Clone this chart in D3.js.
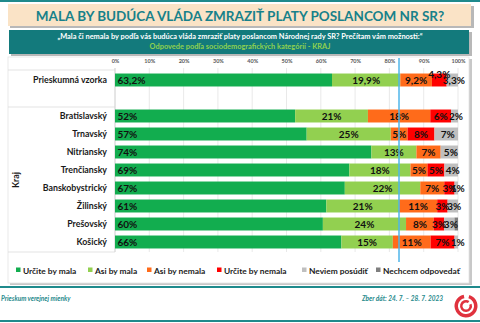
<!DOCTYPE html>
<html>
<head>
<meta charset="utf-8">
<script src="https://cdn.jsdelivr.net/npm/d3@7"></script>
<style>
  body { margin: 0; background: #fff; }
  svg { display: block; font-family: Lato, "Open Sans", sans-serif; }
</style>
</head>
<body>
<div id="chart"></div>
<script>
// categories (rows) and answer series
const rows = ["Prieskumná vzorka", "Bratislavský", "Trnavský", "Nitriansky", "Trenčiansky",
  "Banskobystrický", "Žilinský", "Prešovský", "Košický"];
const series = ["Určite by mala", "Asi by mala", "Asi by nemala", "Určite by nemala", "Neviem posúdiť", "Nechcem odpovedať"];

// values in %, one per row
const urciteMala   = [63.2, 52, 57, 74, 69, 67, 61, 60, 66];
const asiMala      = [19.9, 21, 25, 13, 18, 22, 21, 24, 15];
const asiNemala    = [9.2, 18, 5, 7, 5, 7, 11, 8, 11];
const urciteNemala = [4.3, 6, 8, 0, 5, 3, 3, 3, 7];
const neviem       = [3.3, 2, 7, 5, 4, 1, 3, 3, 1];
const nechcem      = [0, 0, 0, 0, 0, 0, 0, 1, 0];

const ticks = [0, 10, 20, 30, 40, 50, 60, 70, 80, 90, 100];
const markerValue = 82.8; // blue reference line

const colors = ["#12ad4f", "#92d050", "#ff6b1a", "#ff0000", "#bfbfbf", "#7f7f7f"];
const teal = "#1f8a8c";

const width = 480, height = 323;
const svg = d3.select("#chart").append("svg").attr("width", width).attr("height", height);

// top rule
svg.append("rect").attr("x", 0).attr("y", 0).attr("width", width).attr("height", 2).attr("fill", teal);

// title box
svg.append("rect").attr("x", 10).attr("y", 6).attr("width", 464).attr("height", 22).attr("fill", "#b8b8b8");
svg.append("rect").attr("x", 8).attr("y", 4).attr("width", 463).attr("height", 22).attr("fill", "#fae3c6");
svg.append("text").attr("x", 240).attr("y", 20.5).attr("text-anchor", "middle")
  .attr("font-size", 13.5).attr("font-weight", 700).attr("fill", "#17818a")
  .text("MALA BY BUDÚCA VLÁDA ZMRAZIŤ PLATY POSLANCOM NR SR?");

// question box
svg.append("rect").attr("x", 11).attr("y", 32).attr("width", 461).attr("height", 24).attr("fill", "#b8b8b8");
svg.append("rect").attr("x", 9).attr("y", 30).attr("width", 460).attr("height", 24).attr("fill", "#137a7c");
svg.append("text").attr("x", 240).attr("y", 38.5).attr("text-anchor", "middle")
  .attr("font-size", 7.4).attr("font-weight", 700).attr("fill", "#fff")
  .text("„Mala či nemala by podľa vás budúca vláda zmraziť platy poslancom Národnej rady SR? Prečítam vám možnosti:\u201C");
svg.append("text").attr("x", 240).attr("y", 48.5).attr("text-anchor", "middle")
  .attr("font-size", 7.4).attr("font-weight", 700).attr("fill", "#8fd14f")
  .text("Odpovede podľa sociodemografických kategórií - KRAJ");

// chart panel
svg.append("rect").attr("x", 10).attr("y", 59).attr("width", 462).attr("height", 226).attr("fill", "#c8c8c8");
svg.append("rect").attr("x", 8).attr("y", 57).attr("width", 461).attr("height", 226)
  .attr("fill", "#fff").attr("stroke", "#e4e4e4").attr("stroke-width", 0.8);

// scales
const x = d3.scaleLinear().domain([0, 100]).range([115, 458]);
const slots = [rows[0], "__gap__", ...rows.slice(1)];
const y = d3.scaleBand().domain(slots).range([71, 251]).paddingInner(0.28).paddingOuter(0.14);

// grid
svg.append("g").selectAll("line").data(ticks).join("line")
  .attr("x1", d => x(d)).attr("x2", d => x(d))
  .attr("y1", 68).attr("y2", 252)
  .attr("stroke", "#e3e3e3").attr("stroke-width", 0.8);

// tick labels via axis
const axis = svg.append("g").attr("transform", "translate(0,66)")
  .call(d3.axisTop(x).tickValues(ticks).tickSize(0).tickFormat(d => d + "%"));
axis.select(".domain").remove();
axis.selectAll("text").attr("font-size", 5.5).attr("font-weight", 700).attr("fill", "#595959")
  .attr("font-family", "Lato, sans-serif");

// row separator lines in the label column
[70, 107, 252].forEach(yy => {
  svg.append("line").attr("x1", 8).attr("x2", 115).attr("y1", yy).attr("y2", yy)
    .attr("stroke", "#dcdcdc").attr("stroke-width", 0.8);
});
svg.append("line").attr("x1", 115).attr("x2", 115).attr("y1", 68).attr("y2", 252)
  .attr("stroke", "#d0d0d0").attr("stroke-width", 0.8);

// stack data (normalised to 100 per row)
const table = rows.map((r, i) => {
  const vals = [urciteMala[i], asiMala[i], asiNemala[i], urciteNemala[i], neviem[i], nechcem[i]];
  const total = d3.sum(vals);
  const o = { row: r, raw: vals };
  series.forEach((s, j) => o[s] = vals[j] / total * 100);
  return o;
});
const stacked = d3.stack().keys(series)(table);

const fmt = v => Number.isInteger(v) ? v + "%" : v.toFixed(1).replace(".", ",") + "%";

const layers = svg.append("g").selectAll("g").data(stacked).join("g")
  .attr("fill", (d, i) => colors[i]);
layers.selectAll("rect").data(d => d).join("rect")
  .attr("x", d => x(d[0]))
  .attr("width", d => Math.max(0, x(d[1]) - x(d[0])))
  .attr("y", d => y(d.data.row))
  .attr("height", y.bandwidth());

// value labels
const nudge = { "Prieskumná vzorka|Určite by nemala": -6 };
stacked.forEach((layer, si) => {
  layer.forEach(d => {
    const raw = d.data.raw[si];
    if (!raw || series[si] === "Nechcem odpovedať") return;
    const first = si === 0;
    const dy = nudge[d.data.row + "|" + series[si]] || 0;
    const dx = series[si] === "Neviem posúdiť" ? 1.5 : 0;
    svg.append("text")
      .attr("x", first ? x(d[0]) + 2.5 : (x(d[0]) + x(d[1])) / 2 + dx)
      .attr("y", y(d.data.row) + y.bandwidth() / 2 + 3.6 + dy)
      .attr("text-anchor", first ? "start" : "middle")
      .attr("font-size", 10).attr("font-weight", 700).attr("fill", "#111")
      .text(fmt(raw));
  });
});

// category labels
svg.append("g").selectAll("text").data(rows).join("text")
  .attr("x", 107).attr("y", d => y(d) + y.bandwidth() / 2 + 3)
  .attr("text-anchor", "end").attr("font-size", 8.8).attr("font-weight", 700).attr("fill", "#1a1a1a")
  .text(d => d);

svg.append("text").attr("transform", "translate(19,180) rotate(-90)")
  .attr("text-anchor", "middle").attr("font-size", 8.8).attr("font-weight", 700).attr("fill", "#1a1a1a")
  .text("Kraj");

// blue marker line
svg.append("line").attr("x1", x(markerValue)).attr("x2", x(markerValue))
  .attr("y1", 58).attr("y2", 262).attr("stroke", "#4fb5ea").attr("stroke-width", 1.5);

// legend
const legendX = [16, 88, 147, 217, 302, 376];
const legend = svg.append("g").selectAll("g").data(series).join("g")
  .attr("transform", (d, i) => `translate(${legendX[i]},271)`);
legend.append("rect").attr("x", 0).attr("y", -3.5).attr("width", 4.5).attr("height", 4.5)
  .attr("fill", (d, i) => colors[i]);
legend.append("text").attr("x", 7).attr("y", 3).attr("font-size", 8.4).attr("font-weight", 700)
  .attr("fill", "#1a1a1a").text(d => d);

// footer
svg.append("rect").attr("x", 0).attr("y", 286).attr("width", width).attr("height", 2).attr("fill", teal);
svg.append("rect").attr("x", 0).attr("y", 320).attr("width", width).attr("height", 2).attr("fill", teal);
svg.append("text").attr("x", 1).attr("y", 301).attr("font-size", 6.5).attr("font-weight", 700)
  .attr("font-style", "italic").attr("fill", teal).text("Prieskum verejnej mienky");
svg.append("text").attr("x", 443).attr("y", 301).attr("text-anchor", "end").attr("font-size", 6.5)
  .attr("font-weight", 700).attr("font-style", "italic").attr("fill", teal)
  .text("Zber dát: 24. 7. – 28. 7. 2023");

// logo (spiral)
const logo = svg.append("g").attr("transform", "translate(466,306)").attr("fill", "#e0323e");
logo.append("path").attr("d", d3.arc()({ innerRadius: 8, outerRadius: 11.5, startAngle: 0.3, endAngle: 2 * Math.PI - 0.2 }));
logo.append("path").attr("d", d3.arc()({ innerRadius: 3.5, outerRadius: 6, startAngle: 1.2, endAngle: 2 * Math.PI + 0.6 }));
</script>
</body>
</html>
